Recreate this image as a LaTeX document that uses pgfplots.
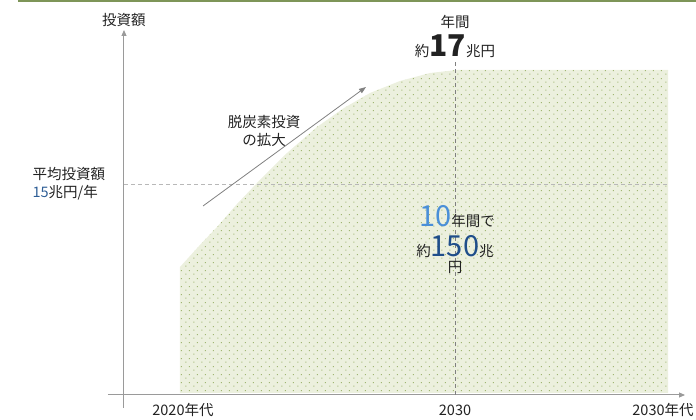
\documentclass[border=0pt]{standalone}
\usepackage{fontspec}
\setmainfont{Noto Sans CJK JP}
\usepackage{pgfplots}
\pgfplotsset{compat=1.18}
\usetikzlibrary{arrows.meta,patterns.meta}
\definecolor{areafill}{HTML}{ECF0DE}
\definecolor{dotc}{HTML}{A0B672}
\definecolor{topline}{HTML}{7E9558}
\definecolor{axisgray}{HTML}{9A9A9A}
\definecolor{lightblue}{HTML}{4A8FD8}
\definecolor{darkblue}{HTML}{1F4E8A}
\definecolor{midblue}{HTML}{2E5E96}
\definecolor{txt}{HTML}{222222}
\tikzdeclarepattern{
  name=stagdots,
  type=uncolored,
  bounding box={(0,0) and (8bp,8bp)},
  tile size={(8bp,8bp)},
  code={
    \fill (1.5bp,1.5bp) rectangle ++(1.2bp,1.2bp);
    \fill (5.5bp,5.5bp) rectangle ++(1.2bp,1.2bp);
  }
}
\newcommand\sm{\fontsize{14.5bp}{18bp}\selectfont}
\begin{document}
\begin{tikzpicture}
\begin{axis}[
  at={(0,0)}, anchor=origin,
  width=577bp, height=378bp, scale only axis,
  xmin=-16, xmax=561, ymin=-13, ymax=365,
  axis lines=middle,
  axis line style={axisgray, line width=1bp, -{Triangle[length=6bp,width=5bp]}},
  xtick=\empty, ytick=\empty,
  clip=false,
]
\addplot[draw=none, fill=areafill, postaction={pattern=stagdots, pattern color=dotc}]
  coordinates {(56,2) (56,128) (75,149) (93,168) (113,191) (133,212) (163,242) (193,268)
  (220,287) (246,302) (276,314) (306,322) (333,325) (544,325) (544,2)} -- cycle;
\addplot[axisgray!70, dash pattern=on 4bp off 3bp, line width=0.8bp] coordinates {(0,211) (544,211)};
\addplot[gray, dash pattern=on 4bp off 3bp, line width=0.8bp] coordinates {(331,0) (331,333)};
\addplot[gray, line width=0.8bp, -{Triangle[length=7bp,width=5bp]}] coordinates {(79,189) (242,308)};
\draw[topline, line width=2bp] (axis cs:-106,394) -- (axis cs:572,394);
\node[txt, font=\sm] at (axis cs:0,375) {投資額};
\node[txt, font=\sm] at (axis cs:331,373) {年間};
\node[txt, font=\sm, anchor=base] at (axis cs:331,338) {約{\fontsize{30bp}{30bp}\selectfont\bfseries 17}兆円};
\node[txt, font=\sm, align=center] at (axis cs:140,264) {脱炭素投資\\の拡大};
\node[txt, font=\sm, align=left, anchor=west] at (axis cs:-95,211) {平均投資額\\{\color{midblue}15}兆円/年};
\node[txt, font=\sm, anchor=base] at (axis cs:333,168) {{\color{lightblue}\fontsize{29bp}{29bp}\selectfont 10}年間で};
\node[txt, font=\sm, anchor=base] at (axis cs:331,138) {約{\color{darkblue}\fontsize{29bp}{29bp}\selectfont 150}兆};
\node[txt, font=\sm] at (axis cs:331,128) {円};
\node[txt, font=\sm] at (axis cs:59,-15) {2020年代};
\node[txt, font=\sm] at (axis cs:331,-15) {2030};
\node[txt, font=\sm] at (axis cs:539,-15) {2030年代};
\end{axis}
\pgfresetboundingbox
\path (-124bp,-25bp) rectangle (572bp,395bp);
\end{tikzpicture}
\end{document}
